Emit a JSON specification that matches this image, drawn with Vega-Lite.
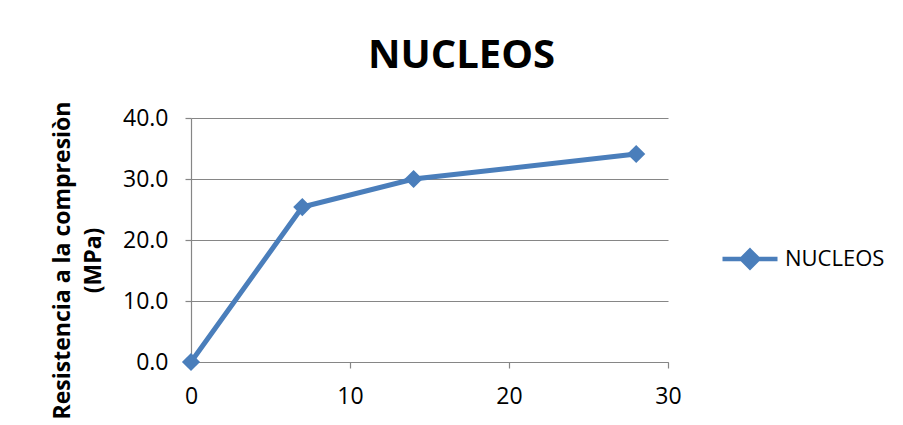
{
  "$schema": "https://vega.github.io/schema/vega-lite/v6.json",
  "autosize": "none",
  "width": 477,
  "height": 244,
  "padding": {"left": 191, "top": 118, "right": 235, "bottom": 63},
  "background": "white",
  "title": {
    "text": "NUCLEOS",
    "font": "Open Sans",
    "fontSize": 40,
    "fontWeight": "bold",
    "color": "#000000",
    "anchor": "middle",
    "frame": "group",
    "dx": 32,
    "dy": 53,
    "baseline": "alphabetic",
    "offset": 46
  },
  "data": {
    "values": [
      {"dias": 0, "resistencia": 0.0, "serie": "NUCLEOS"},
      {"dias": 7, "resistencia": 25.4, "serie": "NUCLEOS"},
      {"dias": 14, "resistencia": 30.0, "serie": "NUCLEOS"},
      {"dias": 28, "resistencia": 34.1, "serie": "NUCLEOS"}
    ]
  },
  "mark": {
    "type": "line",
    "strokeWidth": 5,
    "point": {"shape": "diamond", "size": 330, "filled": true, "opacity": 1}
  },
  "encoding": {
    "x": {
      "field": "dias",
      "type": "quantitative",
      "scale": {"domain": [0, 30], "nice": false, "zero": false},
      "axis": {
        "title": null,
        "values": [0, 10, 20, 30],
        "grid": false,
        "labelFlush": false,
        "labelPadding": 17,
        "tickSize": 6
      }
    },
    "y": {
      "field": "resistencia",
      "type": "quantitative",
      "scale": {"domain": [0, 40], "nice": false},
      "axis": {
        "title": ["Resistencia a la compresiòn", "(MPa)"],
        "titleFont": "Open Sans",
        "titleFontSize": 23,
        "titleFontWeight": "bold",
        "titleColor": "#000000",
        "titleAngle": -90,
        "titleAlign": "center",
        "titleBaseline": "middle",
        "titleLineHeight": 31,
        "titleX": -129,
        "titleY": 142,
        "values": [0, 10, 20, 30, 40],
        "format": ".1f",
        "grid": true,
        "labelFlush": false,
        "labelPadding": 17,
        "tickSize": 6
      }
    },
    "color": {
      "field": "serie",
      "type": "nominal",
      "scale": {"range": ["#4A7EBB"]},
      "legend": {
        "title": null,
        "orient": "none",
        "legendX": 529,
        "legendY": 111,
        "padding": 0,
        "symbolType": "M-1,0L1,0M0,-0.3L0.3,0L0,0.3L-0.3,0Z",
        "symbolSize": 3025,
        "symbolStrokeWidth": 4.5,
        "symbolFillColor": "#4A7EBB",
        "symbolStrokeColor": "#4A7EBB",
        "symbolOpacity": 1,
        "labelFont": "Open Sans",
        "labelFontSize": 22,
        "labelColor": "#000000",
        "labelOffset": 5
      }
    }
  },
  "config": {
    "view": {"stroke": null},
    "axis": {
      "labelFont": "Open Sans",
      "labelFontSize": 23,
      "labelColor": "#000000",
      "domainColor": "#868686",
      "domainWidth": 1.2,
      "tickColor": "#868686",
      "tickWidth": 1.2,
      "gridColor": "#868686",
      "gridWidth": 1.2,
      "gridOpacity": 1
    }
  }
}
